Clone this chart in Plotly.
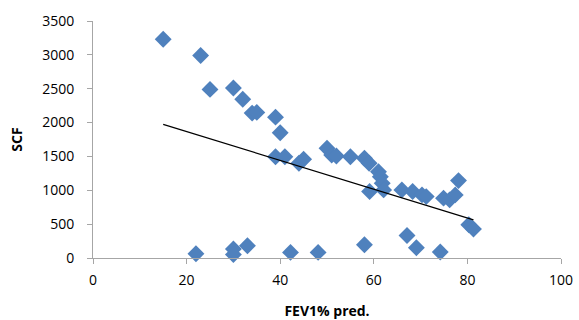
import numpy as np
import plotly.graph_objects as go

fev1 = [15, 23, 25, 30, 32, 34, 35, 39, 40, 39, 41, 44, 45, 50, 51, 52, 55, 58, 59,
        61, 61.4, 61.8, 62.1, 59.1, 66, 68.3, 70.3, 71.2, 74.9, 76.2, 77.4, 78.1, 80.3, 81.3,
        22, 30, 30, 33, 42.2, 48.1, 58, 67.1, 69.1, 74.2]
scf = [3230, 2990, 2490, 2510, 2345, 2140, 2150, 2080, 1850, 1496, 1496, 1400, 1458, 1620, 1521, 1507, 1496, 1473, 1399,
       1275, 1200, 1105, 1006, 981, 1006, 981, 932, 907, 884, 859, 932, 1143, 490, 427,
       63, 133, 50, 181, 83, 83, 196, 333, 152, 88]

x_ticks = [0, 20, 40, 60, 80, 100]
y_ticks = [0, 500, 1000, 1500, 2000, 2500, 3000, 3500]

x = np.array(fev1, dtype=float)
y = np.array(scf, dtype=float)
slope, intercept = np.polyfit(x, y, 1)
tx = np.array([x.min(), x.max()])
ty = slope * tx + intercept

fig = go.Figure()
fig.add_trace(go.Scatter(x=fev1, y=scf, mode="markers",
                         marker=dict(symbol="diamond", size=13, color="#4F81BD",
                                     line=dict(width=0)),
                         showlegend=False, cliponaxis=False))
fig.add_trace(go.Scatter(x=tx, y=ty, mode="lines",
                         line=dict(color="black", width=1.3), showlegend=False))

axis_common = dict(showgrid=False, zeroline=False, showline=True, linecolor="#A6A6A6",
                   linewidth=1, ticks="outside", ticklen=5, tickcolor="#A6A6A6",
                   automargin=False,
                   tickfont=dict(family="Open Sans", size=14, color="black"))
fig.update_xaxes(range=[0, 100], tickvals=x_ticks, ticktext=[str(v) for v in x_ticks],
                 ticklabelstandoff=4,
                 title=dict(text="<b>FEV1% pred.</b>", font=dict(family="Open Sans", size=14, color="black"), standoff=24),
                 **axis_common)
fig.update_yaxes(range=[0, 3500], tickvals=y_ticks, ticktext=[str(v) for v in y_ticks],
                 ticklabelstandoff=10,
                 title=dict(text="<b>SCF</b>", font=dict(family="Open Sans", size=14, color="black"), standoff=16),
                 **axis_common)
fig.update_layout(width=579, height=320, plot_bgcolor="white", paper_bgcolor="white",
                  margin=dict(l=93, r=18, t=21, b=62))
fig.write_html("out.html", config={"displayModeBar": False},
               post_script="document.body.style.margin='0';")
